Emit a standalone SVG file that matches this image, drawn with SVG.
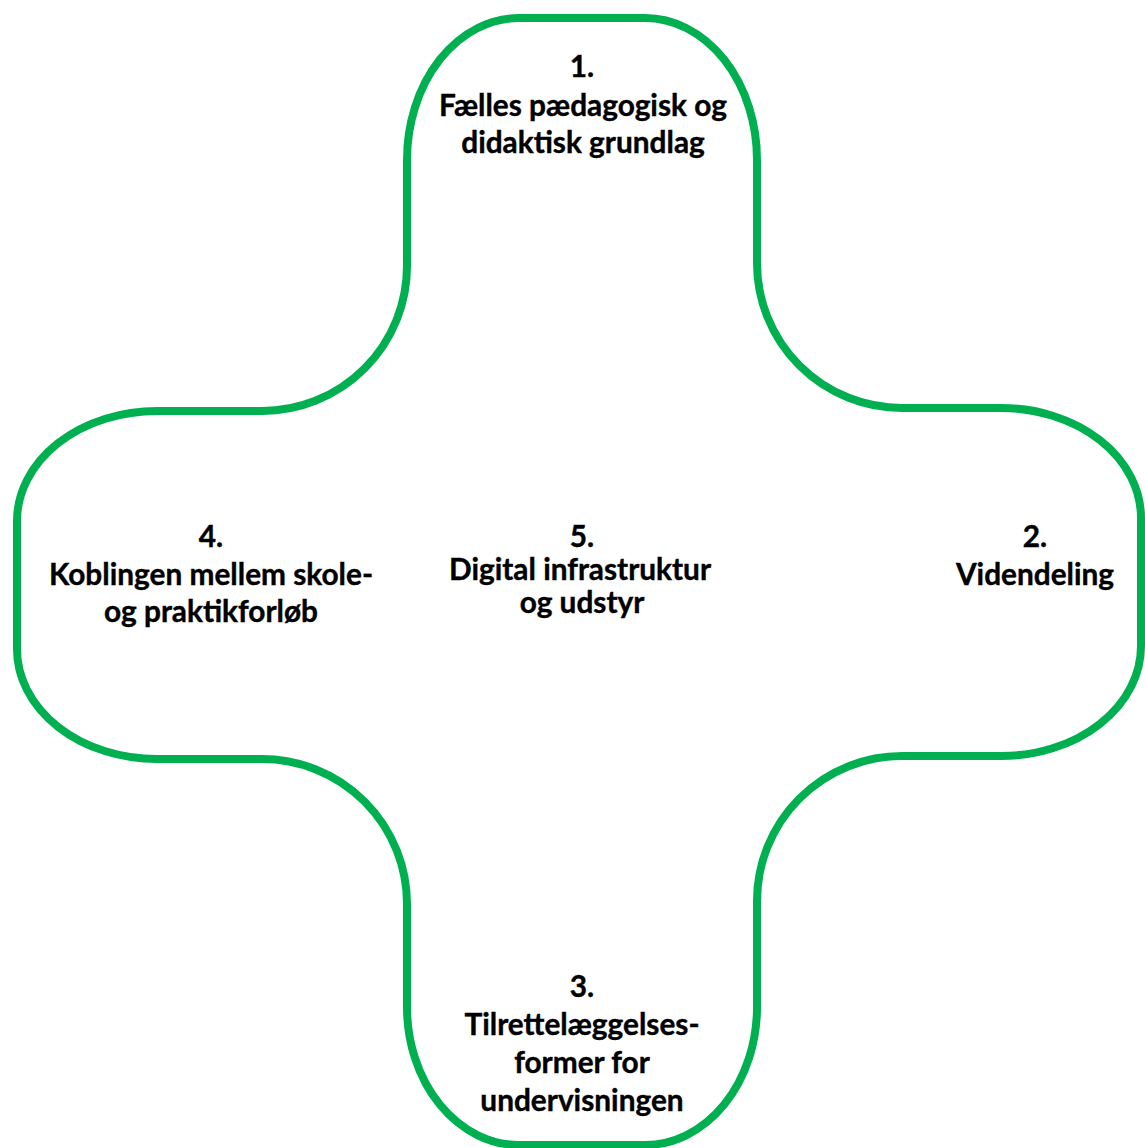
<svg xmlns="http://www.w3.org/2000/svg" width="1145" height="1148" viewBox="0 0 1145 1148">
<style>
.outline{fill:#FFFFFF;stroke:#00B050;stroke-width:8;stroke-linejoin:round}
.lbl{font-family:Lato,"Liberation Sans",sans-serif;font-weight:bold;font-size:29.8px;fill:#000000;text-anchor:middle;stroke:#000000;stroke-width:0.4}
</style>
<rect width="1145" height="1148" fill="#FFFFFF"/>
<g id="cross">
<path class="outline" d="M 262 411 A 145 145 0 0 0 407 266 L 407 160 A 112 142 0 0 1 519 18 L 645 18 A 112 142 0 0 1 757 160 L 757 263 A 145 145 0 0 0 902 408 L 1001 408 A 140 110 0 0 1 1141 518 L 1141 646 A 140 110 0 0 1 1001 756 L 902 756 A 145 145 0 0 0 757 901 L 757 1007 A 112 138 0 0 1 645 1145 L 519 1145 A 112 138 0 0 1 407 1007 L 407 904 A 145 145 0 0 0 262 759 L 157 759 A 140 110 0 0 1 17 649 L 17 521 A 140 110 0 0 1 157 411 Z"/>
</g>
<g id="node1">
<text class="lbl" x="582" y="77">1.</text>
<text class="lbl" x="583" y="116">Fælles pædagogisk og</text>
<text class="lbl" x="583" y="153">didaktisk grundlag</text>
</g>
<g id="node2">
<text class="lbl" x="1035" y="547">2.</text>
<text class="lbl" x="1035" y="585">Videndeling</text>
</g>
<g id="node3">
<text class="lbl" x="582" y="997">3.</text>
<text class="lbl" x="582" y="1035">Tilrettelæggelses-</text>
<text class="lbl" x="582" y="1073">former for</text>
<text class="lbl" x="582" y="1111">undervisningen</text>
</g>
<g id="node4">
<text class="lbl" x="211" y="547">4.</text>
<text class="lbl" x="211" y="585">Koblingen mellem skole-</text>
<text class="lbl" x="211" y="622">og praktikforløb</text>
</g>
<g id="node5">
<text class="lbl" x="582" y="547">5.</text>
<text class="lbl" x="580" y="580">Digital infrastruktur</text>
<text class="lbl" x="582" y="613">og udstyr</text>
</g>
</svg>
